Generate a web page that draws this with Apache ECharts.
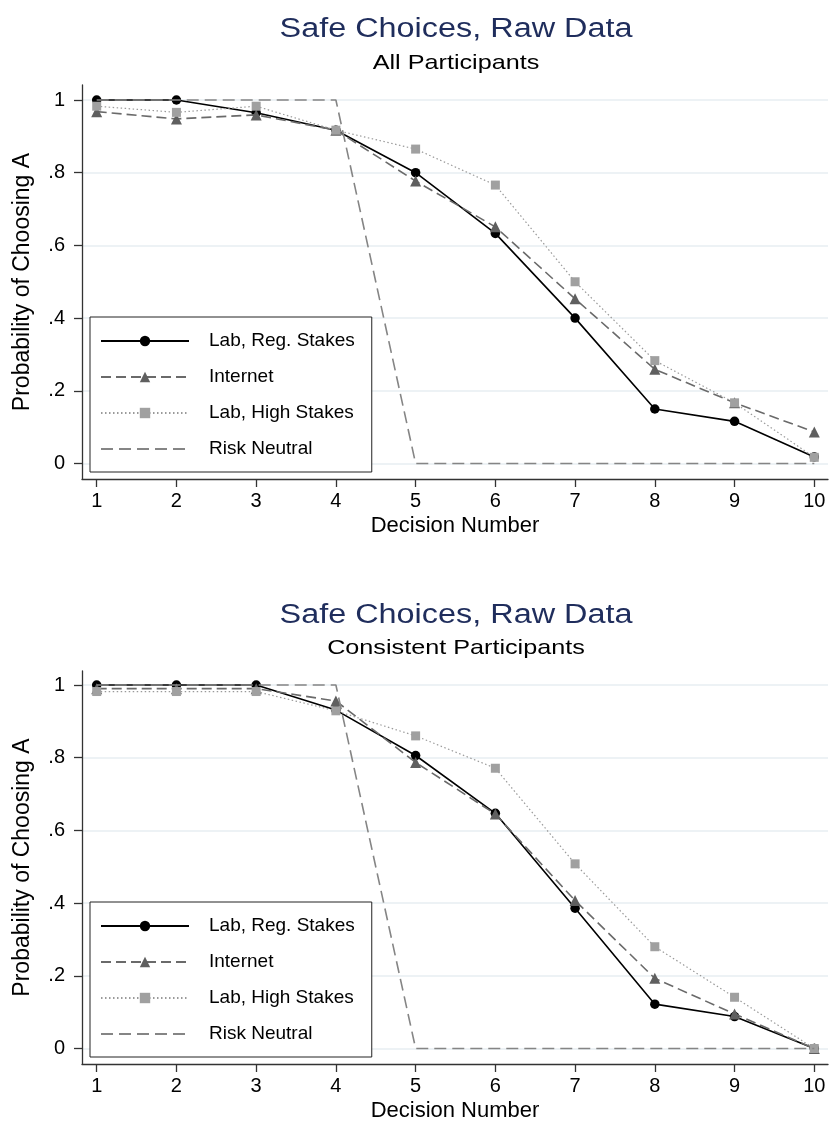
<!DOCTYPE html>
<html>
<head>
<meta charset="utf-8">
<script src="https://cdn.jsdelivr.net/npm/echarts@6/dist/echarts.min.js"></script>
<style>
html,body{margin:0;padding:0;background:#fff;}
#chart{width:831px;height:1124px;}
</style>
</head>
<body>
<div id="chart"></div>
<script>
// ---- data ----
const decisions = [1, 2, 3, 4, 5, 6, 7, 8, 9, 10];
const seriesNames = ['Lab, Reg. Stakes', 'Internet', 'Lab, High Stakes', 'Risk Neutral'];
const riskNeutral = [1, 1, 1, 1, 0, 0, 0, 0, 0, 0];

const allLabReg   = [1.000, 1.000, 0.965, 0.917, 0.800, 0.633, 0.400, 0.150, 0.116, 0.018];
const allInternet = [0.968, 0.948, 0.959, 0.917, 0.777, 0.651, 0.453, 0.259, 0.167, 0.087];
const allHigh     = [0.983, 0.966, 0.983, 0.917, 0.865, 0.766, 0.500, 0.283, 0.167, 0.017];

const conLabReg   = [1.000, 1.000, 1.000, 0.931, 0.806, 0.647, 0.386, 0.122, 0.088, 0.000];
const conInternet = [0.990, 0.990, 0.990, 0.956, 0.787, 0.645, 0.407, 0.193, 0.095, 0.000];
const conHigh     = [0.982, 0.982, 0.982, 0.929, 0.860, 0.771, 0.508, 0.280, 0.141, 0.000];

const titleText = 'Safe Choices, Raw Data';
const subtitles = ['All Participants', 'Consistent Participants'];
const xAxisTitle = 'Decision Number';
const yAxisTitle = 'Probability of Choosing A';
const yTickValues = [0, 0.2, 0.4, 0.6, 0.8, 1];
const yTickLabels = ['0', '.2', '.4', '.6', '.8', '1'];

// ---- styling / layout ----
const FONT = 'Liberation Sans, Arial, Helvetica, sans-serif';
const TITLE_COLOR = '#1f2d5c';
const AXIS_COLOR = '#333333';
const GRID_COLOR = '#e7eef2';

const panels = [
  { top: 85, height: 394, yMax: 1.0413, titleY: 30, subY: 63, legendTop: 317,
    data: [allLabReg, allInternet, allHigh, riskNeutral], sub: subtitles[0] },
  { top: 671, height: 393, yMax: 1.0385, titleY: 616, subY: 648, legendTop: 902,
    data: [conLabReg, conInternet, conHigh, riskNeutral], sub: subtitles[1] }
];

function pairs(vals) { return decisions.map((d, i) => [d, vals[i]]); }

const styles = [
  { color: '#000000', line: { color: '#000000', width: 1.6, type: 'solid' }, symbol: 'circle', size: 9.5 },
  { color: '#5f5f5f', line: { color: '#6a6a6a', width: 1.6, type: [10, 5] }, symbol: 'triangle', size: 11 },
  { color: '#a0a0a0', line: { color: '#9a9a9a', width: 1.2, type: [1.5, 2.5] }, symbol: 'rect', size: 9 },
  { color: '#858585', line: { color: '#858585', width: 1.6, type: [12, 6] }, symbol: 'none', size: 0 }
];

const legendData = seriesNames.map((n, i) =>
  styles[i].symbol === 'none' ? { name: n, itemStyle: { opacity: 0 } } : n);

const grids = [], xAxes = [], yAxes = [], series = [], legends = [], graphics = [];

panels.forEach((p, gi) => {
  grids.push({ left: 82, width: 746, top: p.top, height: p.height, containLabel: false });
  xAxes.push({
    type: 'value', gridIndex: gi, min: 0.8156, max: 10.172,
    name: xAxisTitle, nameLocation: 'middle', nameGap: 36,
    nameTextStyle: { fontFamily: FONT, fontSize: 22, color: '#000' },
    axisLine: { show: true, onZero: false, lineStyle: { color: AXIS_COLOR, width: 1.3 } },
    axisTick: { show: true, length: 8, lineStyle: { color: AXIS_COLOR, width: 1.3 }, customValues: decisions },
    axisLabel: { fontFamily: FONT, fontSize: 20, color: '#000', margin: 12, customValues: decisions },
    splitLine: { show: false }
  });
  yAxes.push({
    type: 'value', gridIndex: gi, min: -0.0426, max: p.yMax,
    name: yAxisTitle, nameLocation: 'middle', nameGap: 48, nameRotate: 90,
    nameTextStyle: { fontFamily: FONT, fontSize: 23, color: '#000' },
    axisLine: { show: true, onZero: false, lineStyle: { color: AXIS_COLOR, width: 1.3 } },
    axisTick: { show: true, length: 8, lineStyle: { color: AXIS_COLOR, width: 1.3 }, customValues: yTickValues },
    axisLabel: { fontFamily: FONT, fontSize: 20, color: '#000', margin: 17, customValues: yTickValues,
      formatter: v => { const i = yTickValues.findIndex(t => Math.abs(t - v) < 1e-9); return i >= 0 ? yTickLabels[i] : ''; } },
    splitLine: { show: true, lineStyle: { color: GRID_COLOR, width: 1.5 } }
  });
  [0, 1, 2, 3].forEach(si => {
    const st = styles[si];
    series.push({
      type: 'line', name: seriesNames[si], xAxisIndex: gi, yAxisIndex: gi,
      data: pairs(p.data[si]),
      symbol: st.symbol, symbolSize: st.size, showSymbol: st.symbol !== 'none',
      itemStyle: { color: st.color },
      lineStyle: st.line,
      z: 2 + si,
      animation: false, silent: true
    });
  });
  legends.push({
    data: legendData, orient: 'vertical', left: 90, top: p.legendTop,
    itemWidth: 88, itemHeight: 13, itemGap: 16,
    padding: [14, 17, 13, 10],
    borderColor: '#222', borderWidth: 1, backgroundColor: '#fff',
    selectedMode: false,
    textStyle: { fontFamily: FONT, fontSize: 19, color: '#000', lineHeight: 20, padding: [0, 0, 0, 15] }
  });
  graphics.push({
    type: 'text', x: 456, y: p.titleY, scaleX: 1.2,
    style: { text: titleText, fontFamily: FONT, fontSize: 27, fill: TITLE_COLOR, align: 'center', verticalAlign: 'middle' }
  });
  graphics.push({
    type: 'text', x: 456, y: p.subY, scaleX: 1.2,
    style: { text: p.sub, fontFamily: FONT, fontSize: 21, fill: '#000', align: 'center', verticalAlign: 'middle' }
  });
});

const chart = echarts.init(document.getElementById('chart'), null, { renderer: 'canvas' });
chart.setOption({
  backgroundColor: '#ffffff',
  animation: false,
  grid: grids, xAxis: xAxes, yAxis: yAxes, series: series, legend: legends,
  graphic: graphics
});
</script>
</body>
</html>
